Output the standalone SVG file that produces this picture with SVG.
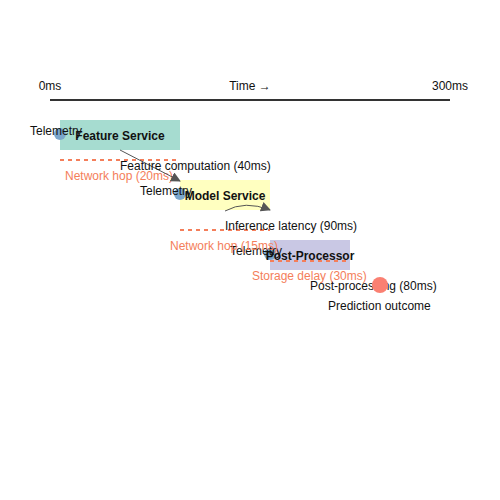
<svg xmlns="http://www.w3.org/2000/svg" width="500" height="500" viewBox="0 0 500 500">
<defs>
<style>
text{font-family:"Liberation Sans",Arial,sans-serif;font-size:12px;fill:#111}
.node{font-weight:bold;text-anchor:middle}
.hop{fill:#f47e5a}
.dash{stroke:#f47e5a;stroke-width:2;stroke-dasharray:4 4;fill:none}
.tele{fill:#7aa6cc}
.conn{stroke:#555;stroke-width:1;fill:none}
.mid{text-anchor:middle}
</style>
<marker id="ah" viewBox="0 0 10 10" refX="9" refY="5" markerWidth="10" markerHeight="10" markerUnits="userSpaceOnUse" orient="auto">
<path d="M0,0 L10,5 L0,10 z" fill="#555"/>
</marker>
</defs>
<rect width="500" height="500" fill="#fff"/>
<g id="axis">
<line x1="50" y1="100" x2="450" y2="100" stroke="#333" stroke-width="2"/>
<text x="50" y="90" class="mid">0ms</text>
<text x="250" y="90" class="mid">Time →</text>
<text x="450" y="90" class="mid">300ms</text>
</g>
<g id="feature-service">
<rect x="60" y="120" width="120" height="30" fill="#a6dcd0"/>
<circle cx="60" cy="134" r="6" class="tele"/>
<text x="30" y="135">Telemetry</text>
<text x="120" y="140" class="node">Feature Service</text>
</g>
<g id="model-service">
<rect x="180" y="180" width="90" height="30" fill="#ffffc0"/>
<circle cx="180" cy="194" r="6" class="tele"/>
<text x="140" y="195">Telemetry</text>
<text x="225" y="200" class="node">Model Service</text>
</g>
<g id="post-processor">
<rect x="270" y="240" width="80" height="30" fill="#c9c8e4"/>
<circle cx="270" cy="254" r="6" class="tele"/>
<text x="230" y="255">Telemetry</text>
<text x="310" y="260" class="node">Post-Processor</text>
</g>
<g id="delays">
<line x1="60" y1="160" x2="180" y2="160" class="dash"/>
<text x="65" y="180" class="hop">Network hop (20ms)</text>
<line x1="180" y1="230" x2="270" y2="230" class="dash"/>
<text x="170" y="250" class="hop">Network hop (15ms)</text>
<line x1="270" y1="261" x2="350" y2="261" class="dash"/>
<text x="252" y="280" class="hop">Storage delay (30ms)</text>
</g>
<g id="connectors">
<line x1="120" y1="150" x2="180" y2="181" class="conn" marker-end="url(#ah)"/>
<path d="M225,211 Q245,200 270,210" class="conn" marker-end="url(#ah)"/>
<text x="120" y="170">Feature computation (40ms)</text>
<text x="225" y="230">Inference latency (90ms)</text>
<text x="310" y="290">Post-processing (80ms)</text>
</g>
<g id="outcome">
<circle cx="380" cy="285" r="8" fill="#fa8072"/>
<text x="328" y="310">Prediction outcome</text>
</g>
</svg>
